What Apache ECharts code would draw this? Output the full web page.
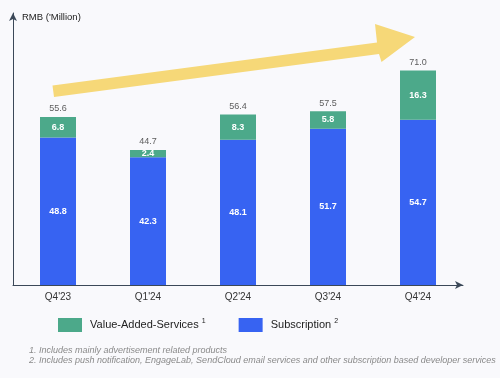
<!DOCTYPE html>
<html>
<head>
<meta charset="utf-8">
<script src="https://cdn.jsdelivr.net/npm/echarts@6/dist/echarts.min.js"></script>
<style>
html,body{margin:0;padding:0;background:#f9f9fc;}
#c{width:500px;height:378px;}
</style>
</head>
<body>
<div id="c"></div>
<script>
var categories = ["Q4'23", "Q1'24", "Q2'24", "Q3'24", "Q4'24"];
var subscription = [48.8, 42.3, 48.1, 51.7, 54.7];
var valueAdded = [6.8, 2.4, 8.3, 5.8, 16.3];
var totals = [55.6, 44.7, 56.4, 57.5, 71.0];
var footnotes = [
  "1. Includes mainly advertisement related products",
  "2. Includes push notification, EngageLab, SendCloud email services and other subscription based developer services"
];

var FONT = "'Liberation Sans', Arial, Helvetica, sans-serif";
var AXIS = '#3b4858';
var chart = echarts.init(document.getElementById('c'), null, {renderer: 'canvas'});

chart.setOption({
  backgroundColor: '#f9f9fc',
  animation: false,
  textStyle: {fontFamily: FONT},
  grid: {left: 13, right: 37, top: 13, bottom: 93, containLabel: false},
  legend: {
    left: 53, top: 313,
    itemWidth: 24, itemHeight: 14, itemGap: 33,
    icon: 'rect',
    data: ['Value-Added-Services', 'Subscription'],
    formatter: function (n) {
      return ' {a|' + n + '} {s|' + (n === 'Subscription' ? '2' : '1') + '}';
    },
    textStyle: {
      fontFamily: FONT, fontSize: 11, color: '#222',
      rich: {
        a: {fontFamily: FONT, fontSize: 11, color: '#222', lineHeight: 14},
        s: {fontFamily: FONT, fontSize: 7, color: '#222', verticalAlign: 'top', lineHeight: 14}
      }
    }
  },
  xAxis: {
    type: 'category',
    data: categories,
    axisLine: {show: true, lineStyle: {color: AXIS, width: 1}, symbol: ['none', 'arrow'], symbolSize: [6, 8]},
    axisTick: {show: false},
    axisLabel: {color: '#333', fontSize: 10, fontFamily: FONT, margin: 7}
  },
  yAxis: {
    type: 'value', min: 0, max: 90,
    axisLine: {show: true, lineStyle: {color: AXIS, width: 1}, symbol: ['none', 'arrow'], symbolSize: [6, 8]},
    axisTick: {show: false},
    axisLabel: {show: false},
    splitLine: {show: false}
  },
  series: [
    {
      name: 'Subscription', type: 'bar', stack: 'rev', barWidth: 36,
      data: subscription,
      itemStyle: {color: '#3763f2'},
      label: {show: true, position: 'inside', color: '#fff', fontSize: 9, fontWeight: 'bold', fontFamily: FONT,
        formatter: function (p) { return p.value.toFixed(1); }}
    },
    {
      name: 'Value-Added-Services', type: 'bar', stack: 'rev', barWidth: 36,
      data: valueAdded,
      itemStyle: {color: '#4ca98a'},
      label: {show: true, position: 'inside', color: '#fff', fontSize: 9, fontWeight: 'bold', fontFamily: FONT,
        formatter: function (p) { return p.value.toFixed(1); }}
    },
    {
      name: 'Total', type: 'scatter', data: totals, symbolSize: 1,
      itemStyle: {color: 'rgba(0,0,0,0)'},
      silent: true,
      label: {show: true, position: 'top', distance: 3, color: '#333', fontSize: 9, fontFamily: FONT,
        formatter: function (p) { return p.value.toFixed(1); }}
    }
  ],
  graphic: [
    {
      type: 'polygon', z: 0, silent: true,
      shape: {points: [[52.5, 85.5], [377, 42.5], [375, 24], [415, 37], [381.5, 62], [379, 54], [54, 97]]},
      style: {fill: '#f6d878'}
    },
    {
      type: 'text', left: 22, top: 12, silent: true,
      style: {text: "RMB ('Million)", fill: '#222', font: '9.5px ' + FONT}
    },
    {
      type: 'text', left: 29, top: 346, silent: true,
      style: {text: footnotes[0], fill: '#8a8a8a', font: 'italic 9px ' + FONT}
    },
    {
      type: 'text', left: 29, top: 356, silent: true,
      style: {text: footnotes[1], fill: '#8a8a8a', font: 'italic 9px ' + FONT}
    }
  ]
});
</script>
</body>
</html>
